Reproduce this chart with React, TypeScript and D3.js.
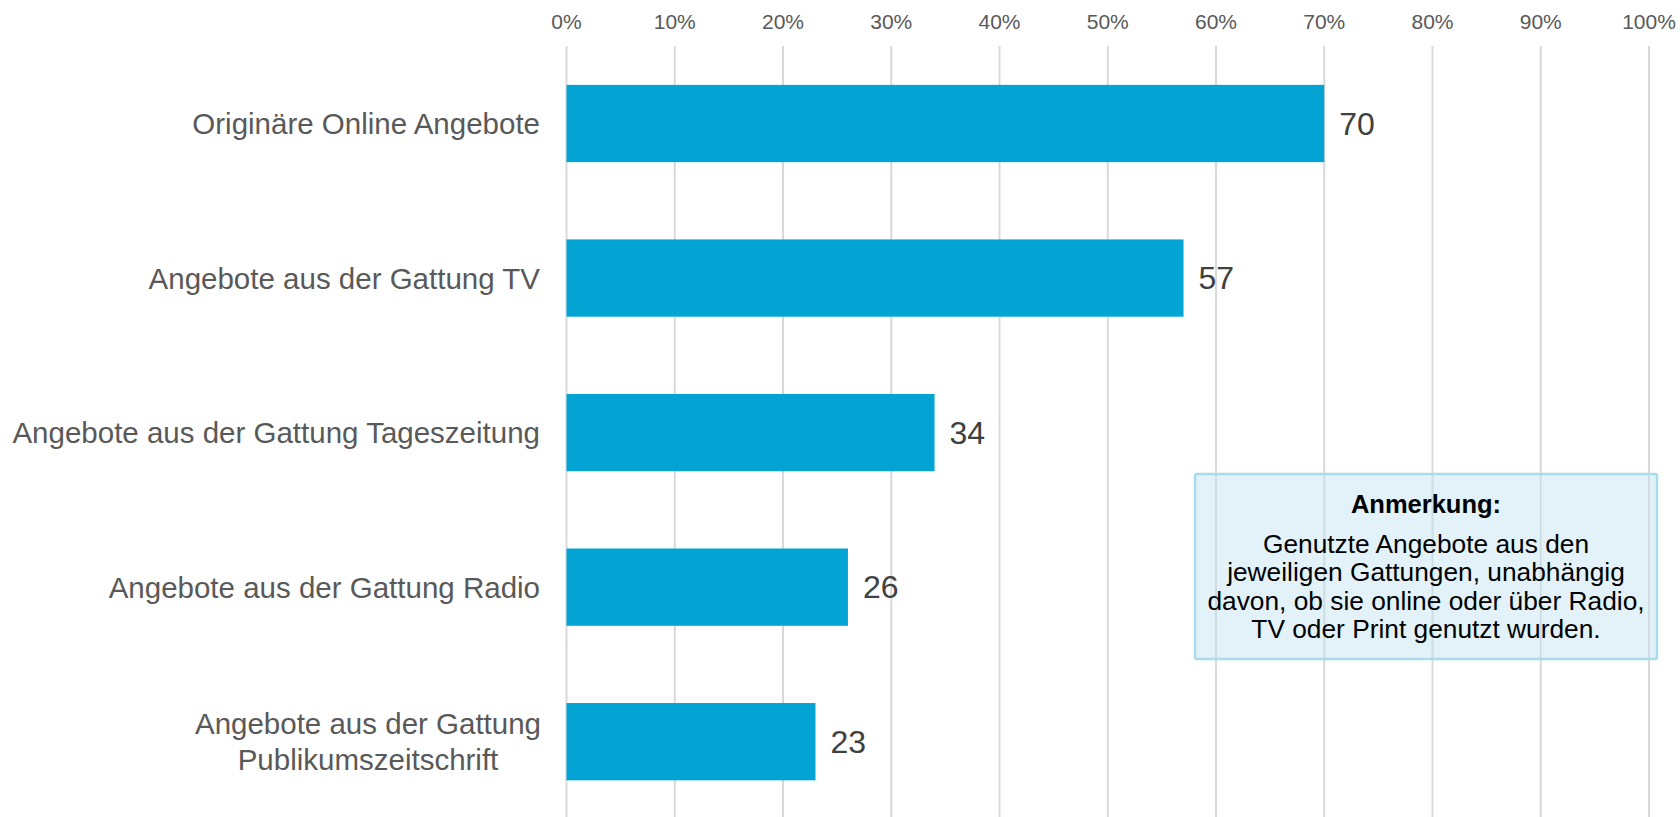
import React from "react";
import * as d3 from "d3";

const categories: string[][] = [
  ["Originäre Online Angebote"],
  ["Angebote aus der Gattung TV"],
  ["Angebote aus der Gattung Tageszeitung"],
  ["Angebote aus der Gattung Radio"],
  ["Angebote aus der Gattung", "Publikumszeitschrift"],
];
const values: number[] = [70, 57, 34, 26, 23];
const ticks: number[] = [0, 10, 20, 30, 40, 50, 60, 70, 80, 90, 100];
const noteTitle = "Anmerkung:";
const noteLines: string[] = [
  "Genutzte Angebote aus den",
  "jeweiligen Gattungen, unabhängig",
  "davon, ob sie online oder über Radio,",
  "TV oder Print genutzt wurden.",
];

const W = 1680;
const H = 817;
const FONT = "'Liberation Sans', Arial, sans-serif";

export default function App() {
  const x = d3.scaleLinear().domain([0, 100]).range([566.5, 1649]);
  const idx = categories.map((_, i) => String(i));
  const y = d3.scaleBand().domain(idx).range([7.6, 857.6]).paddingInner(0.5).paddingOuter(0.5);
  const bw = y.bandwidth();

  const box = { x0: 1195, y0: 474, x1: 1657, y1: 659 };
  const boxCx = (box.x0 + box.x1) / 2;
  const catSize = 29.5;

  return (
    <svg
      width={W}
      height={H}
      style={{ position: "absolute", left: 0, top: 0, display: "block" }}
      fontFamily={FONT}
    >
      <rect x={0} y={0} width={W} height={H} fill="#ffffff" />
      {ticks.map((t) => (
        <g key={t}>
          <line x1={x(t)} x2={x(t)} y1={46} y2={817} stroke="#d9d9d9" strokeWidth={2} />
          <text x={x(t)} y={28.5} textAnchor="middle" fontSize={21} fill="#595959">
            {t}%
          </text>
        </g>
      ))}
      {values.map((v, i) => {
        const y0 = y(String(i))!;
        const cy = y0 + bw / 2;
        const lines = categories[i];
        const lh = 36;
        const multi = lines.length > 1;
        return (
          <g key={i}>
            <rect x={x(0)} y={y0} width={x(v) - x(0)} height={bw} fill="#03A4D3" />
            <text
              x={x(v) + 15}
              y={cy}
              dominantBaseline="central"
              fontSize={32}
              fill="#404040"
            >
              {v}
            </text>
            {lines.map((l, j) => (
              <text
                key={j}
                x={multi ? 368 : 540}
                y={cy + (j - (lines.length - 1) / 2) * lh}
                textAnchor={multi ? "middle" : "end"}
                dominantBaseline="central"
                fontSize={catSize}
                fill="#595959"
              >
                {l}
              </text>
            ))}
          </g>
        );
      })}
      <rect
        x={box.x0}
        y={box.y0}
        width={box.x1 - box.x0}
        height={box.y1 - box.y0}
        rx={2}
        fill="rgba(190,226,240,0.45)"
        stroke="#a8dcec"
        strokeWidth={2.5}
      />
      <text
        x={boxCx}
        y={513.3}
        textAnchor="middle"
        fontSize={25.5}
        fontWeight="bold"
        fill="#000"
      >
        {noteTitle}
      </text>
      {noteLines.map((l, j) => (
        <text
          key={j}
          x={boxCx}
          y={552.7 + j * 28.5}
          textAnchor="middle"
          fontSize={26.3}
          fill="#000"
        >
          {l}
        </text>
      ))}
    </svg>
  );
}
